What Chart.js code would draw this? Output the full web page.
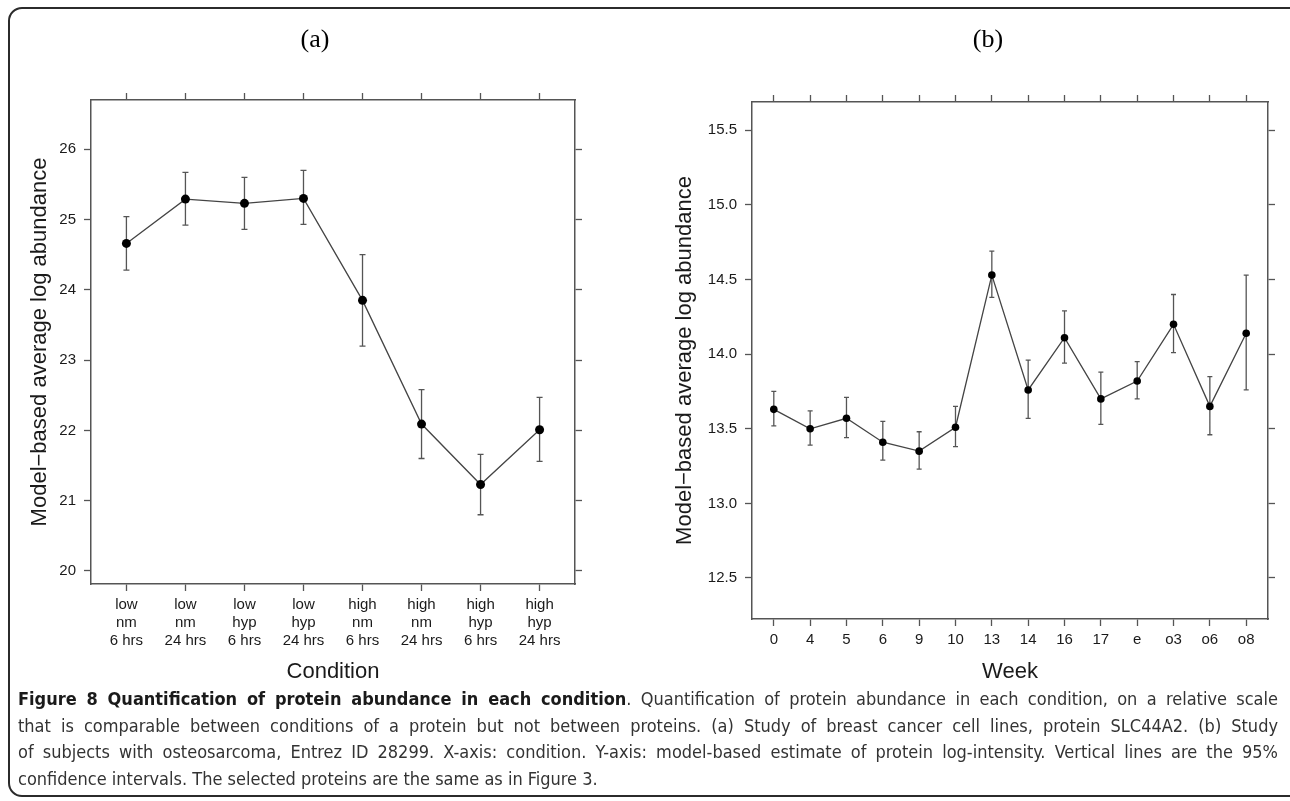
<!DOCTYPE html>
<html>
<head>
<meta charset="utf-8">
<script src="https://cdn.jsdelivr.net/npm/chart.js@4.4.1/dist/chart.umd.min.js"></script>
<style>
	html, body { margin: 0; padding: 0; background: #fff; }
	body { width: 1290px; height: 801px; position: relative; overflow: hidden; font-family: "Liberation Sans", Arial, sans-serif; }
	.frame { position: absolute; left: 8px; top: 7px; width: 1330px; height: 790px; border: 2px solid #2b2b2b; border-radius: 14px; box-sizing: border-box; }
	canvas { position: absolute; top: 0; }
	#chartA { left: 0; }
	#chartB { left: 645px; }
	.caption { position: absolute; left: 18px; top: 686px; width: 1260px; font-family: "Liberation Sans Narrow", "DejaVu Sans Condensed", Roboto, sans-serif; font-size: 18px; line-height: 26.5px; color: #333; }
	.caption div { text-align: justify; text-align-last: justify; }
	.caption div.last { text-align-last: left; }
	.caption b { color: #1a1a1a; }
</style>
</head>
<body>
<div class="frame"></div>
<canvas id="chartA" width="645" height="801"></canvas>
<canvas id="chartB" width="645" height="801"></canvas>
<div class="caption">
	<div><b>Figure 8 Quantification of protein abundance in each condition</b>. Quantification of protein abundance in each condition, on a relative scale</div>
	<div>that is comparable between conditions of a protein but not between proteins. (a) Study of breast cancer cell lines, protein SLC44A2. (b) Study</div>
	<div>of subjects with osteosarcoma, Entrez ID 28299. X-axis: condition. Y-axis: model-based estimate of protein log-intensity. Vertical lines are the 95%</div>
	<div class="last">confidence intervals. The selected proteins are the same as in Figure 3.</div>
</div>
<script>
'use strict';

// panel (a) - breast cancer cell lines
var conditions = [
	['low', 'nm', '6 hrs'], ['low', 'nm', '24 hrs'], ['low', 'hyp', '6 hrs'], ['low', 'hyp', '24 hrs'],
	['high', 'nm', '6 hrs'], ['high', 'nm', '24 hrs'], ['high', 'hyp', '6 hrs'], ['high', 'hyp', '24 hrs']
];
var condMean = [24.66, 25.29, 25.23, 25.30, 23.85, 22.09, 21.23, 22.01];
var condUpper = [25.04, 25.67, 25.60, 25.70, 24.50, 22.58, 21.66, 22.47];
var condLower = [24.28, 24.92, 24.86, 24.93, 23.20, 21.60, 20.80, 21.56];
var condTicks = [20, 21, 22, 23, 24, 25, 26];

// panel (b) - osteosarcoma
var weeks = ['0', '4', '5', '6', '9', '10', '13', '14', '16', '17', 'e', 'o3', 'o6', 'o8'];
var weekMean = [13.63, 13.50, 13.57, 13.41, 13.35, 13.51, 14.53, 13.76, 14.11, 13.70, 13.82, 14.20, 13.65, 14.14];
var weekUpper = [13.75, 13.62, 13.71, 13.55, 13.48, 13.65, 14.69, 13.96, 14.29, 13.88, 13.95, 14.40, 13.85, 14.53];
var weekLower = [13.52, 13.39, 13.44, 13.29, 13.23, 13.38, 14.38, 13.57, 13.94, 13.53, 13.70, 14.01, 13.46, 13.76];
var weekTicks = [12.5, 13.0, 13.5, 14.0, 14.5, 15.0, 15.5];

var yTitle = 'Model\u2212based average log abundance';
var axisColor = '#555';
var textColor = '#1a1a1a';

Chart.defaults.font.family = '"Liberation Sans", Arial, sans-serif';
Chart.defaults.color = textColor;

function errorBars(upper, lower, cap) {
	return {
		id: 'errorBars',
		beforeDatasetsDraw: function(chart) {
			var ctx = chart.ctx;
			var x = chart.scales.x, y = chart.scales.y;
			ctx.save();
			ctx.strokeStyle = axisColor;
			ctx.lineWidth = 1.3;
			ctx.beginPath();
			lower.forEach(function(lo, i) {
				var px = x.getPixelForValue(i);
				var top = y.getPixelForValue(upper[i]);
				var bot = y.getPixelForValue(lo);
				ctx.moveTo(px, top); ctx.lineTo(px, bot);
				ctx.moveTo(px - cap, top); ctx.lineTo(px + cap, top);
				ctx.moveTo(px - cap, bot); ctx.lineTo(px + cap, bot);
			});
			ctx.stroke();
			ctx.restore();
		}
	};
}

function panelTitle(text, cx, cy) {
	return {
		id: 'panelTitle',
		afterDraw: function(chart) {
			var ctx = chart.ctx;
			ctx.save();
			ctx.font = '26px "Liberation Serif", "DejaVu Serif", serif';
			ctx.fillStyle = '#000';
			ctx.textAlign = 'center';
			ctx.textBaseline = 'middle';
			ctx.fillText(text, cx, cy);
			ctx.restore();
		}
	};
}

function tickGrid() {
	return { drawOnChartArea: false, drawTicks: true, tickLength: 7, tickColor: axisColor, tickWidth: 1.3, color: axisColor };
}

function axisBorder() {
	return { display: true, color: axisColor, width: 1.5 };
}

function buildChart(id, opts) {
	var ctx = document.getElementById(id);
	var n = opts.labels.length;
	var xTickValues = opts.labels.map(function(l, i) { return { value: i }; });
	var yTickValues = opts.yTicks.map(function(v) { return { value: v }; });
	var setX = function(s) { s.ticks = xTickValues.slice(); };
	var setY = function(s) { s.ticks = yTickValues.slice(); };

	return new Chart(ctx, {
		type: 'line',
		data: {
			datasets: [{
				data: opts.mean.map(function(v, i) { return { x: i, y: v }; }),
				borderColor: '#444',
				borderWidth: 1.3,
				pointBackgroundColor: '#000',
				pointBorderColor: '#000',
				pointBorderWidth: 0,
				pointRadius: opts.pointRadius,
				tension: 0
			}]
		},
		plugins: [errorBars(opts.upper, opts.lower, opts.cap), panelTitle(opts.title, opts.titleX, 40)],
		options: {
			responsive: false,
			animation: false,
			events: [],
			layout: { padding: opts.padding },
			plugins: {
				legend: { display: false },
				tooltip: { enabled: false }
			},
			scales: {
				x: {
					type: 'linear', position: 'bottom',
					min: -0.6, max: n - 0.4,
					afterBuildTicks: setX,
					ticks: {
						autoSkip: false, maxRotation: 0, padding: 5, color: textColor,
						font: { size: 15, lineHeight: 1.2 },
						callback: function(v) { return opts.labels[v]; }
					},
					grid: tickGrid(),
					border: axisBorder(),
					title: { display: true, text: opts.xTitle, color: textColor, font: { size: 22, lineHeight: 1.2 }, padding: { top: 0, bottom: 2.8 } },
					afterFit: function(s) { s.height = opts.xHeight; }
				},
				x2: {
					type: 'linear', position: 'top',
					min: -0.6, max: n - 0.4,
					afterBuildTicks: setX,
					ticks: { display: false },
					grid: tickGrid(),
					border: axisBorder(),
					afterFit: function(s) { s.height = 7; }
				},
				y: {
					type: 'linear', position: 'left',
					min: opts.yMin, max: opts.yMax,
					afterBuildTicks: setY,
					ticks: {
						padding: 8, color: textColor,
						font: { size: 15 },
						callback: function(v) { return opts.yFormat(v); }
					},
					grid: tickGrid(),
					border: axisBorder(),
					title: { display: true, text: yTitle, color: textColor, font: { size: 22, lineHeight: 1.2 }, padding: { top: 8.8, bottom: 0 } },
					afterFit: function(s) { s.width = opts.yWidth; }
				},
				y2: {
					type: 'linear', position: 'right',
					min: opts.yMin, max: opts.yMax,
					afterBuildTicks: setY,
					ticks: { display: false },
					grid: tickGrid(),
					border: axisBorder(),
					afterFit: function(s) { s.width = 7; }
				}
			}
		}
	});
}

// Chart A - Condition
buildChart('chartA', {
	labels: conditions, mean: condMean, upper: condUpper, lower: condLower,
	yTicks: condTicks, yMin: 19.815, yMax: 26.70,
	yFormat: function(v) { return String(v); },
	xTitle: 'Condition', title: '(a)', titleX: 315,
	pointRadius: 4.5, cap: 3,
	padding: { left: 18, right: 63, top: 93, bottom: 113 },
	xHeight: 104, yWidth: 73
});

// Chart B - Week
buildChart('chartB', {
	labels: weeks, mean: weekMean, upper: weekUpper, lower: weekLower,
	yTicks: weekTicks, yMin: 12.225, yMax: 15.69,
	yFormat: function(v) { return v.toFixed(1); },
	xTitle: 'Week', title: '(b)', titleX: 343,
	pointRadius: 3.8, cap: 2.5,
	padding: { left: 18, right: 15, top: 95, bottom: 113 },
	xHeight: 69, yWidth: 89
});
</script>
</body>
</html>
